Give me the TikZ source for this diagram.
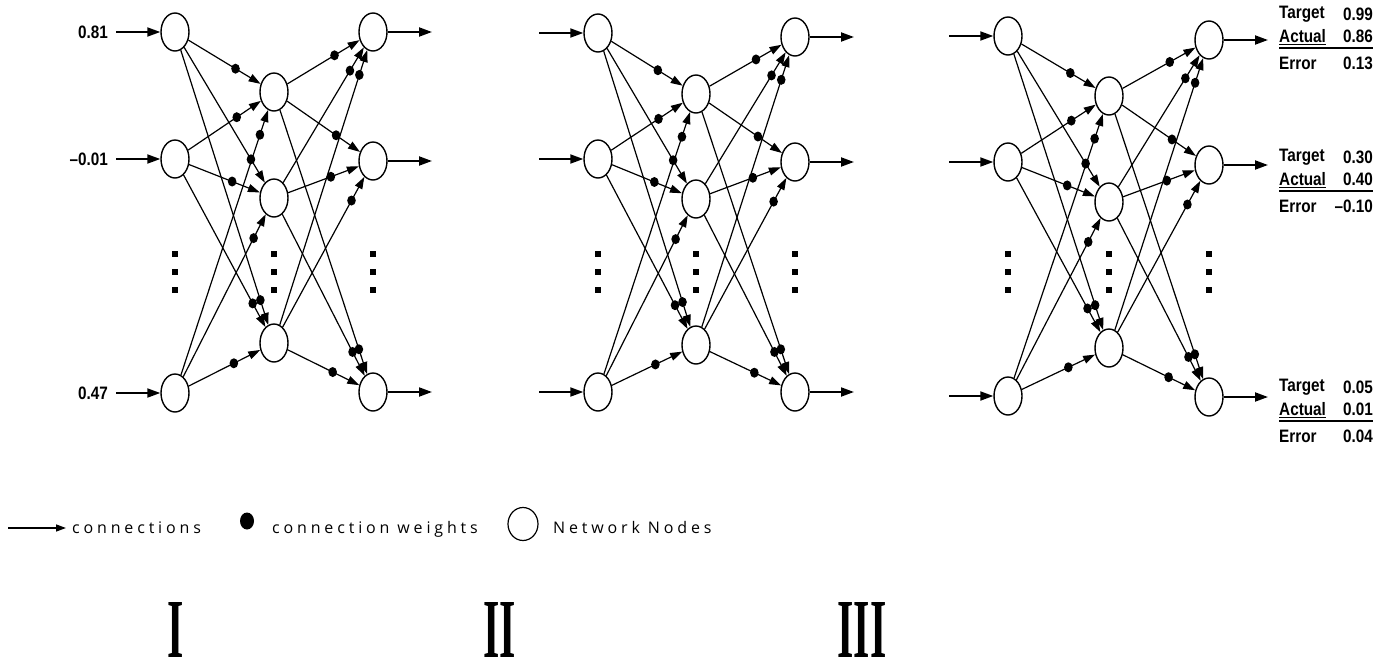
\documentclass[tikz,border=0pt]{standalone}
\usepackage{fontspec}
\setmainfont{Liberation Sans}
\newfontfamily\lblfont[FakeStretch=0.85]{Liberation Sans}
\newfontfamily\legfont[LetterSpace=24]{Open Sans}
\newfontfamily\romfont[FakeStretch=0.5]{Liberation Serif}
\usetikzlibrary{arrows.meta,calc,shapes.geometric}
\begin{document}
\begin{tikzpicture}[x=1pt,y=-1pt,
  neuron/.style={ellipse,draw,line width=1.4pt,fill=white,minimum width=28pt,minimum height=38pt,inner sep=0pt},
  conn/.style={line width=1.2pt,-{Triangle[length=12pt,width=8pt]}},
  io/.style={line width=1.9pt,-{Triangle[length=13pt,width=9pt]}},
  lbl/.style={font=\lblfont\bfseries\fontsize{18}{20}\selectfont,inner sep=0pt},
  leg/.style={font=\legfont\fontsize{16}{19}\selectfont,inner sep=0pt,anchor=base west},
  roman/.style={font=\romfont\bfseries\fontsize{84}{84}\selectfont,inner sep=0pt,anchor=base}
]
\useasboundingbox (0,0) rectangle (1379,664);

% nodes of the three networks
\foreach \n/\xi/\xh/\xo/\ia/\ib/\ic/\ha/\hb/\hc/\oa/\ob/\oc in {
  A/175/274/373/32/159/393/92/198/343/32/161/392,
  B/598/696/795/33/159/392/94/199/345/37/162/392,
  C/1008/1109/1209/36/162/396/96/202/348/40/165/397}{
  \node[neuron] (\n-i1) at (\xi,\ia) {};
  \node[neuron] (\n-i2) at (\xi,\ib) {};
  \node[neuron] (\n-i3) at (\xi,\ic) {};
  \node[neuron] (\n-h1) at (\xh,\ha) {};
  \node[neuron] (\n-h2) at (\xh,\hb) {};
  \node[neuron] (\n-h3) at (\xh,\hc) {};
  \node[neuron] (\n-o1) at (\xo,\oa) {};
  \node[neuron] (\n-o2) at (\xo,\ob) {};
  \node[neuron] (\n-o3) at (\xo,\oc) {};
  \coordinate (\n-s1) at (\xi-59,\ia);
  \coordinate (\n-s2) at (\xi-59,\ib);
  \coordinate (\n-s3) at (\xi-59,\ic);
  \coordinate (\n-e1) at (\xo+59,\oa);
  \coordinate (\n-e2) at (\xo+59,\ob);
  \coordinate (\n-e3) at (\xo+59,\oc);
  \foreach \x in {\xi,\xh,\xo}{
    \foreach \y in {254,272,290}{
      \fill (\x-2.6,\y-3.2) rectangle (\x+2.6,\y+3.2);
    }
  }
}

% connections with weights
\foreach \n in {A,B,C}{
  \foreach \k in {1,2,3}{
    \draw[io] (\n-s\k) -- (\n-i\k);
    \draw[io] (\n-o\k) -- (\n-e\k);
  }
  \foreach \s in {1,2,3}{
    \foreach \t in {1,2,3}{
      \draw[conn] (\n-i\s) -- (\n-h\t);
      \fill ($(\n-h\t)!45pt!(\n-i\s)$) ellipse[x radius=4.3pt,y radius=5pt];
      \draw[conn] (\n-h\s) -- (\n-o\t);
      \fill ($(\n-o\t)!45pt!(\n-h\s)$) ellipse[x radius=4.3pt,y radius=5pt];
    }
  }
}

% input values
\node[lbl,anchor=east] (v1) at (108,32) {0.81};
\node[lbl,anchor=east] (v2) at (108,159) {–0.01};
\node[lbl,anchor=east] (v3) at (108,393) {0.47};

% output values
\foreach \k/\y/\tv/\av/\ev in {1/14/0.99/0.86/0.13, 2/157/0.30/0.40/–0.10, 3/387/0.05/0.01/0.04}{
  \node[lbl,anchor=west] (t\k) at (1279,\y) {Target};
  \node[lbl,anchor=east] (tv\k) at (1373,\y) {\tv};
  \node[lbl,anchor=west] (a\k) at (1279,\y+22) {Actual};
  \node[lbl,anchor=east] (av\k) at (1373,\y+22) {\av};
  \node[lbl,anchor=west] (er\k) at (1279,\y+49) {Error};
  \node[lbl,anchor=east] (ev\k) at (1373,\y+49) {\ev};
  \draw[line width=1.1pt] ([yshift=-2pt]a\k.south west) -- ([yshift=-2pt]a\k.south east);
  \draw[line width=1.6pt] (1279,\y+34) -- (1373,\y+34);
}

% legend
\coordinate (L0) at (8,528);
\coordinate (L1) at (66,528);
\draw[line width=1.4pt,-{Triangle[length=10pt,width=7pt]}] (L0) -- (L1);
\node[leg] (lc) at (72,533) {connections};
\fill (247,521) ellipse [x radius=7pt, y radius=8.5pt];
\node[leg] (lw) at (272,533) {connection weights};
\node[ellipse,draw,line width=1.2pt,minimum width=30pt,minimum height=33pt,inner sep=0pt] (lnode) at (523,524) {};
\node[leg] (ln) at (553,533) {Network Nodes};

% panel numbers
\node[roman] (r1) at (176,657) {I};
\node[roman] (r2) at (500,657) {II};
\node[roman] (r3) at (862,657) {III};
\end{tikzpicture}
\end{document}
